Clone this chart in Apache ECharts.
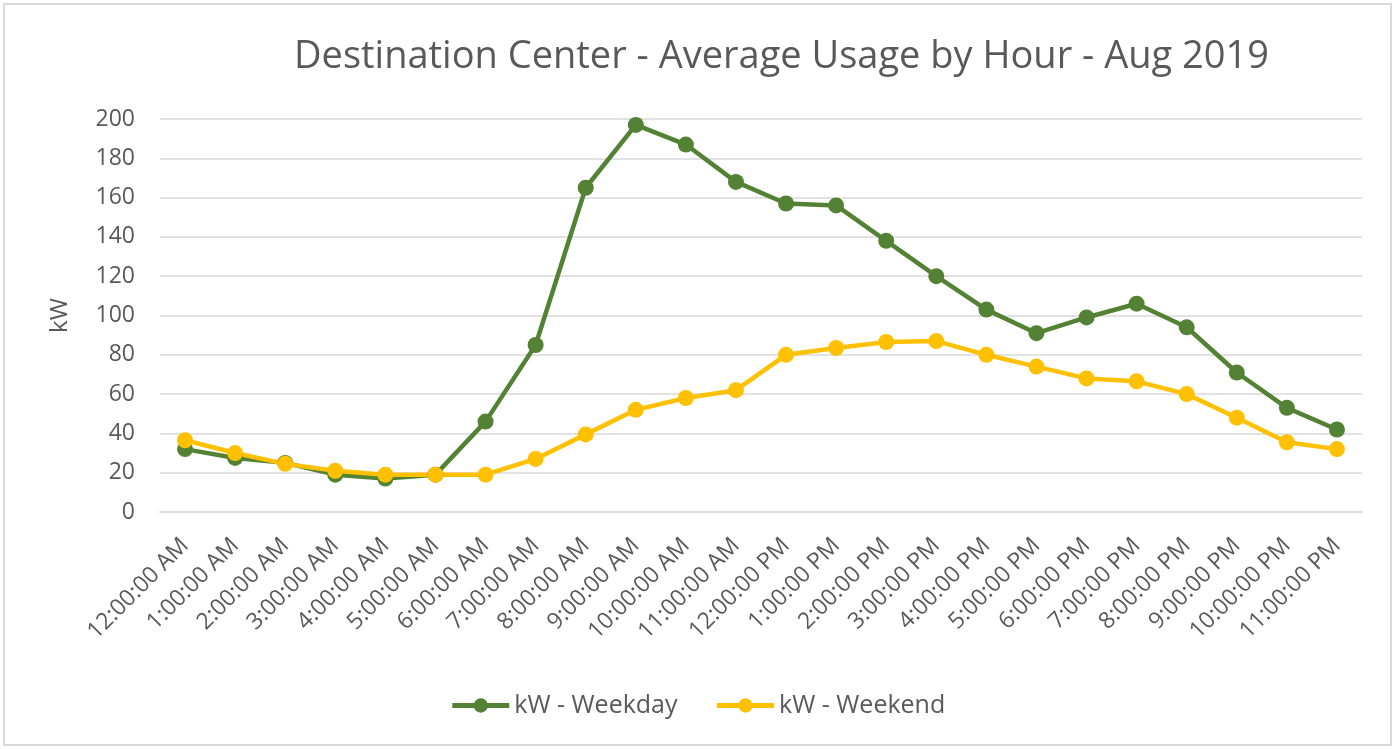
<!DOCTYPE html>
<html>
<head>
<meta charset="utf-8">
<script src="https://cdn.jsdelivr.net/npm/echarts@6/dist/echarts.min.js"></script>
<style>
html,body{margin:0;padding:0;background:#fff;}
#c{width:1395px;height:749px;}
</style>
</head>
<body>
<div id="c"></div>
<script>
const categories = ["12:00:00 AM","1:00:00 AM","2:00:00 AM","3:00:00 AM","4:00:00 AM","5:00:00 AM","6:00:00 AM","7:00:00 AM","8:00:00 AM","9:00:00 AM","10:00:00 AM","11:00:00 AM","12:00:00 PM","1:00:00 PM","2:00:00 PM","3:00:00 PM","4:00:00 PM","5:00:00 PM","6:00:00 PM","7:00:00 PM","8:00:00 PM","9:00:00 PM","10:00:00 PM","11:00:00 PM"];
const weekday = [32,27.5,25,19,17,19,46,85,165,197,187,168,157,156,138,120,103,91,99,106,94,71,53,42];
const weekend = [36.5,30,24.5,21,19,19,19,27,39.5,52,58,62,80,83.5,86.5,87,80,74,68,66.5,60,48,35.5,32];
const seriesNames = ["kW - Weekday","kW - Weekend"];
const titleText = "Destination Center - Average Usage by Hour - Aug 2019";

const FONT = "'Open Sans', sans-serif";
const TXT = "#595959";
const chart = echarts.init(document.getElementById('c'));
chart.setOption({
  animation:false,
  textStyle:{fontFamily:FONT},
  graphic:[{type:'rect',shape:{x:4,y:4,width:1387,height:741},style:{fill:'none',stroke:'#d9d9d9',lineWidth:2},silent:true}],
  title:{text:titleText,left:289,top:33,textStyle:{fontFamily:FONT,fontSize:38,fontWeight:'normal',color:TXT}},
  legend:{data:seriesNames,bottom:26,left:'center',itemWidth:57,itemHeight:18,itemGap:37,
    lineStyle:{width:5},
    textStyle:{fontFamily:FONT,fontSize:25,color:TXT}},
  grid:{left:160,right:33,top:119,bottom:237},
  xAxis:{type:'category',data:categories,boundaryGap:true,
    axisLine:{lineStyle:{color:'#d9d9d9',width:1.5}},axisTick:{show:false},
    axisLabel:{rotate:45,color:TXT,fontSize:23,fontFamily:FONT,margin:30,interval:0}},
  yAxis:{type:'value',min:0,max:200,interval:20,name:'kW',nameLocation:'middle',nameGap:88,
    nameTextStyle:{fontFamily:FONT,fontSize:24,color:TXT},
    axisLine:{show:false},axisTick:{show:false},
    axisLabel:{color:TXT,fontSize:23,fontFamily:FONT,margin:25},
    splitLine:{lineStyle:{color:'#d9d9d9',width:1.5}}},
  series:[
    {name:seriesNames[0],type:'line',data:weekday,symbol:'circle',symbolSize:16,
     itemStyle:{color:'#548235'},lineStyle:{color:'#548235',width:4.5}},
    {name:seriesNames[1],type:'line',data:weekend,symbol:'circle',symbolSize:16,
     itemStyle:{color:'#FFC000'},lineStyle:{color:'#FFC000',width:4.5}}
  ]
});
</script>
</body>
</html>
